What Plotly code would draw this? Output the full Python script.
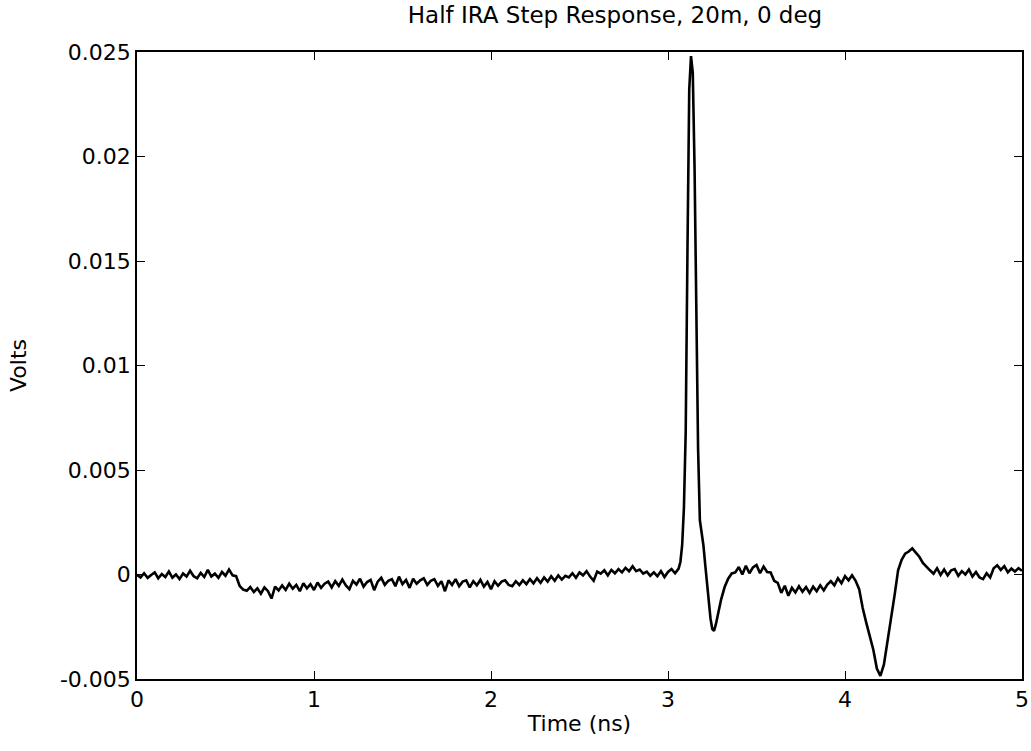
import plotly.graph_objects as go

# ---- data ----
# baseline segment, sampled every 0.02 ns from 0.00 ns, values in mV
base_mv = [
    -0.02, -0.14, 0.06, -0.16, -0.02, 0.10, -0.18, 0.02, -0.12, 0.14,
    -0.15, 0.00, -0.22, 0.05, -0.10, 0.18, -0.08, -0.18, 0.08, -0.12,
    0.22, -0.10, 0.04, -0.16, 0.12, -0.06, 0.24, -0.04,
    -0.08, -0.55, -0.72,
    -0.78, -0.60, -0.84, -0.66, -0.92, -0.62, -0.80, -1.15, -0.58, -0.76,
    -0.52, -0.74, -0.44, -0.68, -0.50, -0.80, -0.42, -0.66, -0.46, -0.74,
    -0.38, -0.64, -0.44, -0.34, -0.62,
    -0.32, -0.54, -0.24, -0.52, -0.70, -0.30, -0.48, -0.20, -0.58, -0.36,
    -0.26, -0.75, -0.34, -0.16, -0.50, -0.30, -0.22, -0.56, -0.10, -0.46,
    -0.26, -0.64, -0.20, -0.44, -0.28, -0.18, -0.50, -0.30, -0.22, -0.54,
    -0.32, -0.80, -0.28, -0.50, -0.22, -0.56, -0.34, -0.28, -0.62, -0.32,
    -0.52, -0.26, -0.58, -0.36, -0.70, -0.32, -0.54, -0.34, -0.28, -0.50,
    -0.56, -0.32, -0.50, -0.28, -0.46, -0.22, -0.42, -0.18, -0.40, -0.14,
    -0.34, -0.08, -0.30, -0.04, -0.24,
    -0.06, -0.14, 0.06, -0.16, 0.10, -0.04, 0.16, -0.10, -0.30, 0.14,
    0.04, 0.20, -0.04, 0.22, 0.06, 0.26, 0.10, 0.32, 0.16, 0.40,
    0.16, 0.24, 0.04, 0.14, -0.06, 0.10, -0.08, 0.16, -0.12, 0.12,
    0.26, 0.06, 0.28,
]
base_start_ns = 0.0

# main pulse, explicit times (ns) and values (mV)
pulse_ns = [3.07, 3.08, 3.09, 3.10, 3.11, 3.12, 3.13, 3.14, 3.15, 3.16,
            3.17, 3.18, 3.19, 3.20, 3.21, 3.22, 3.23, 3.24, 3.25, 3.26,
            3.27, 3.28, 3.29, 3.30, 3.32, 3.34, 3.36]
pulse_mv = [0.6, 1.4, 3.2, 6.8, 15.5, 23.2, 24.8, 24.0, 19.5, 13.5,
            6.0, 2.6, 2.0, 1.4, 0.5, -0.4, -1.2, -2.1, -2.6, -2.7,
            -2.4, -2.0, -1.6, -1.2, -0.6, -0.2, 0.05]

# tail segment, sampled every 0.02 ns from 3.38 ns, values in mV
tail_mv = [
    0.10, 0.36, 0.00, 0.42, 0.06, 0.34, 0.46, 0.06, 0.38, 0.12,
    0.10, -0.30, -0.40, -0.88, -0.54, -1.02, -0.64, -0.86, -0.56, -0.82,
    -0.60, -0.88, -0.58, -0.80, -0.52, -0.76, -0.48, -0.32, -0.52, -0.18,
    -0.42, -0.08, -0.28, -0.04, -0.30,
    -0.70, -1.6, -2.3, -2.9, -3.6, -4.5, -4.85, -4.3, -3.3, -2.1,
    -1.0, 0.2, 0.7, 1.0, 1.1, 1.25, 1.05, 0.85, 0.55, 0.35, 0.20,
    0.04, 0.30, -0.02, 0.24, -0.04, 0.20, 0.26, -0.06, 0.16, 0.00,
    0.24, -0.10, 0.12, -0.14, -0.22, 0.06, -0.14, 0.30, 0.44, 0.22,
    0.40, 0.10, 0.28, 0.14, 0.30, 0.18,
]
tail_start_ns = 3.38
sample_step_ns = 0.02

x_tick_vals = [0, 1, 2, 3, 4, 5]
y_tick_vals = [-0.005, 0, 0.005, 0.01, 0.015, 0.02, 0.025]
y_tick_text = ["-0.005", "0", "0.005", "0.01", "0.015", "0.02", "0.025"]

# ---- assemble trace ----
base_ns = [round(base_start_ns + sample_step_ns * i, 3) for i in range(len(base_mv))]
tail_ns = [round(tail_start_ns + sample_step_ns * i, 3) for i in range(len(tail_mv))]
time_ns = base_ns + pulse_ns + tail_ns
volts = [v / 1000.0 for v in base_mv + pulse_mv + tail_mv]

FONT = "DejaVu Sans"

fig = go.Figure()
fig.add_trace(go.Scatter(
    x=time_ns, y=volts, mode="lines",
    line=dict(color="black", width=2.6),
    showlegend=False, hoverinfo="x+y",
))

axis_common = dict(
    showgrid=False, zeroline=False,
    showline=True, linecolor="black", linewidth=1.5, mirror="ticks",
    ticks="inside", ticklen=8, tickwidth=1.3, tickcolor="black",
    tickfont=dict(family=FONT, size=22, color="black"),
)

fig.update_layout(
    width=1031, height=751,
    paper_bgcolor="white", plot_bgcolor="white",
    margin=dict(l=137, r=9, t=52, b=72, autoexpand=False),
    title=dict(
        text="Half IRA Step Response, 20m, 0 deg",
        x=615 / 1031, xref="container", xanchor="center",
        y=1 - 15 / 751, yref="container", yanchor="middle",
        font=dict(family=FONT, size=23, color="black"),
    ),
    xaxis=dict(
        range=[0, 5], tickvals=x_tick_vals,
        title=dict(text="Time (ns)", standoff=4,
                   font=dict(family=FONT, size=22, color="black")),
        **axis_common,
    ),
    yaxis=dict(
        range=[-0.005, 0.025], tickvals=y_tick_vals, ticktext=y_tick_text,
        title=dict(text="Volts", standoff=27,
                   font=dict(family=FONT, size=22, color="black")),
        **axis_common,
    ),
)

fig.write_html("out.html")
